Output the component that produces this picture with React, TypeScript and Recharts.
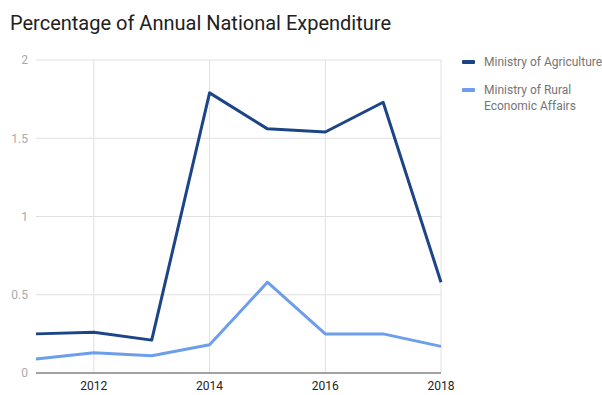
import React from 'react';
import { LineChart, Line, XAxis, YAxis, CartesianGrid } from 'recharts';

const years = [2011, 2012, 2013, 2014, 2015, 2016, 2017, 2018];
const agriculture = [0.25, 0.26, 0.21, 1.79, 1.56, 1.54, 1.73, 0.58];
const rural = [0.09, 0.13, 0.11, 0.18, 0.58, 0.25, 0.25, 0.17];
const xTicks = [2012, 2014, 2016, 2018];
const yTicks = [0, 0.5, 1, 1.5, 2];
const seriesNames = ['Ministry of Agriculture', 'Ministry of Rural Economic Affairs'];
const colors = ['#1c4587', '#6d9eeb'];

const data = years.map((y, i) => ({ year: y, agri: agriculture[i], rural: rural[i] }));

const LegendBox = () => (
  <div style={{ position: 'absolute', left: 462, top: 54, width: 140, fontFamily: 'Roboto, sans-serif', fontSize: 12, color: '#757575', lineHeight: '16px' }}>
    <div style={{ display: 'flex', alignItems: 'flex-start', marginBottom: 12 }}>
      <div style={{ width: 13, height: 4, background: colors[0], marginTop: 6, marginRight: 9, borderRadius: 1, flexShrink: 0 }} />
      <div style={{ whiteSpace: 'nowrap' }}>{seriesNames[0]}</div>
    </div>
    <div style={{ display: 'flex', alignItems: 'flex-start' }}>
      <div style={{ width: 13, height: 4, background: colors[1], marginTop: 6, marginRight: 9, borderRadius: 1, flexShrink: 0 }} />
      <div>Ministry of Rural<br />Economic Affairs</div>
    </div>
  </div>
);

export default function App() {
  return (
    <div style={{ position: 'absolute', left: 0, top: 0, width: 602, height: 395, background: '#fff' }}>
      <div style={{ position: 'absolute', left: 10, top: 11, fontFamily: 'Roboto, sans-serif', fontSize: 20, color: '#212121' }}>
        Percentage of Annual National Expenditure
      </div>
      <LineChart width={602} height={395} data={data} margin={{ top: 60, right: 161, bottom: 0, left: 0 }}>
        <CartesianGrid stroke="#e0e0e0" strokeWidth={1} verticalValues={xTicks} horizontalValues={yTicks} />
        <XAxis
          dataKey="year"
          type="number"
          domain={[2011, 2018]}
          ticks={xTicks}
          tickLine={false}
          axisLine={{ stroke: '#555', strokeWidth: 1 }}
          height={22}
          tick={{ fill: '#222', fontSize: 12, fontFamily: 'Roboto, sans-serif' }}
          tickMargin={2}
        />
        <YAxis
          domain={[0, 2]}
          ticks={yTicks}
          tickLine={false}
          axisLine={false}
          width={36}
          tick={{ fill: '#aaa', fontSize: 12, fontFamily: 'Roboto, sans-serif' }}
          tickFormatter={(v: number) => String(v)}
        />
        <Line name={seriesNames[0]} dataKey="agri" stroke={colors[0]} strokeWidth={3} dot={false} isAnimationActive={false} strokeLinejoin="round" />
        <Line name={seriesNames[1]} dataKey="rural" stroke={colors[1]} strokeWidth={3} dot={false} isAnimationActive={false} strokeLinejoin="round" />
      </LineChart>
      <LegendBox />
    </div>
  );
}
